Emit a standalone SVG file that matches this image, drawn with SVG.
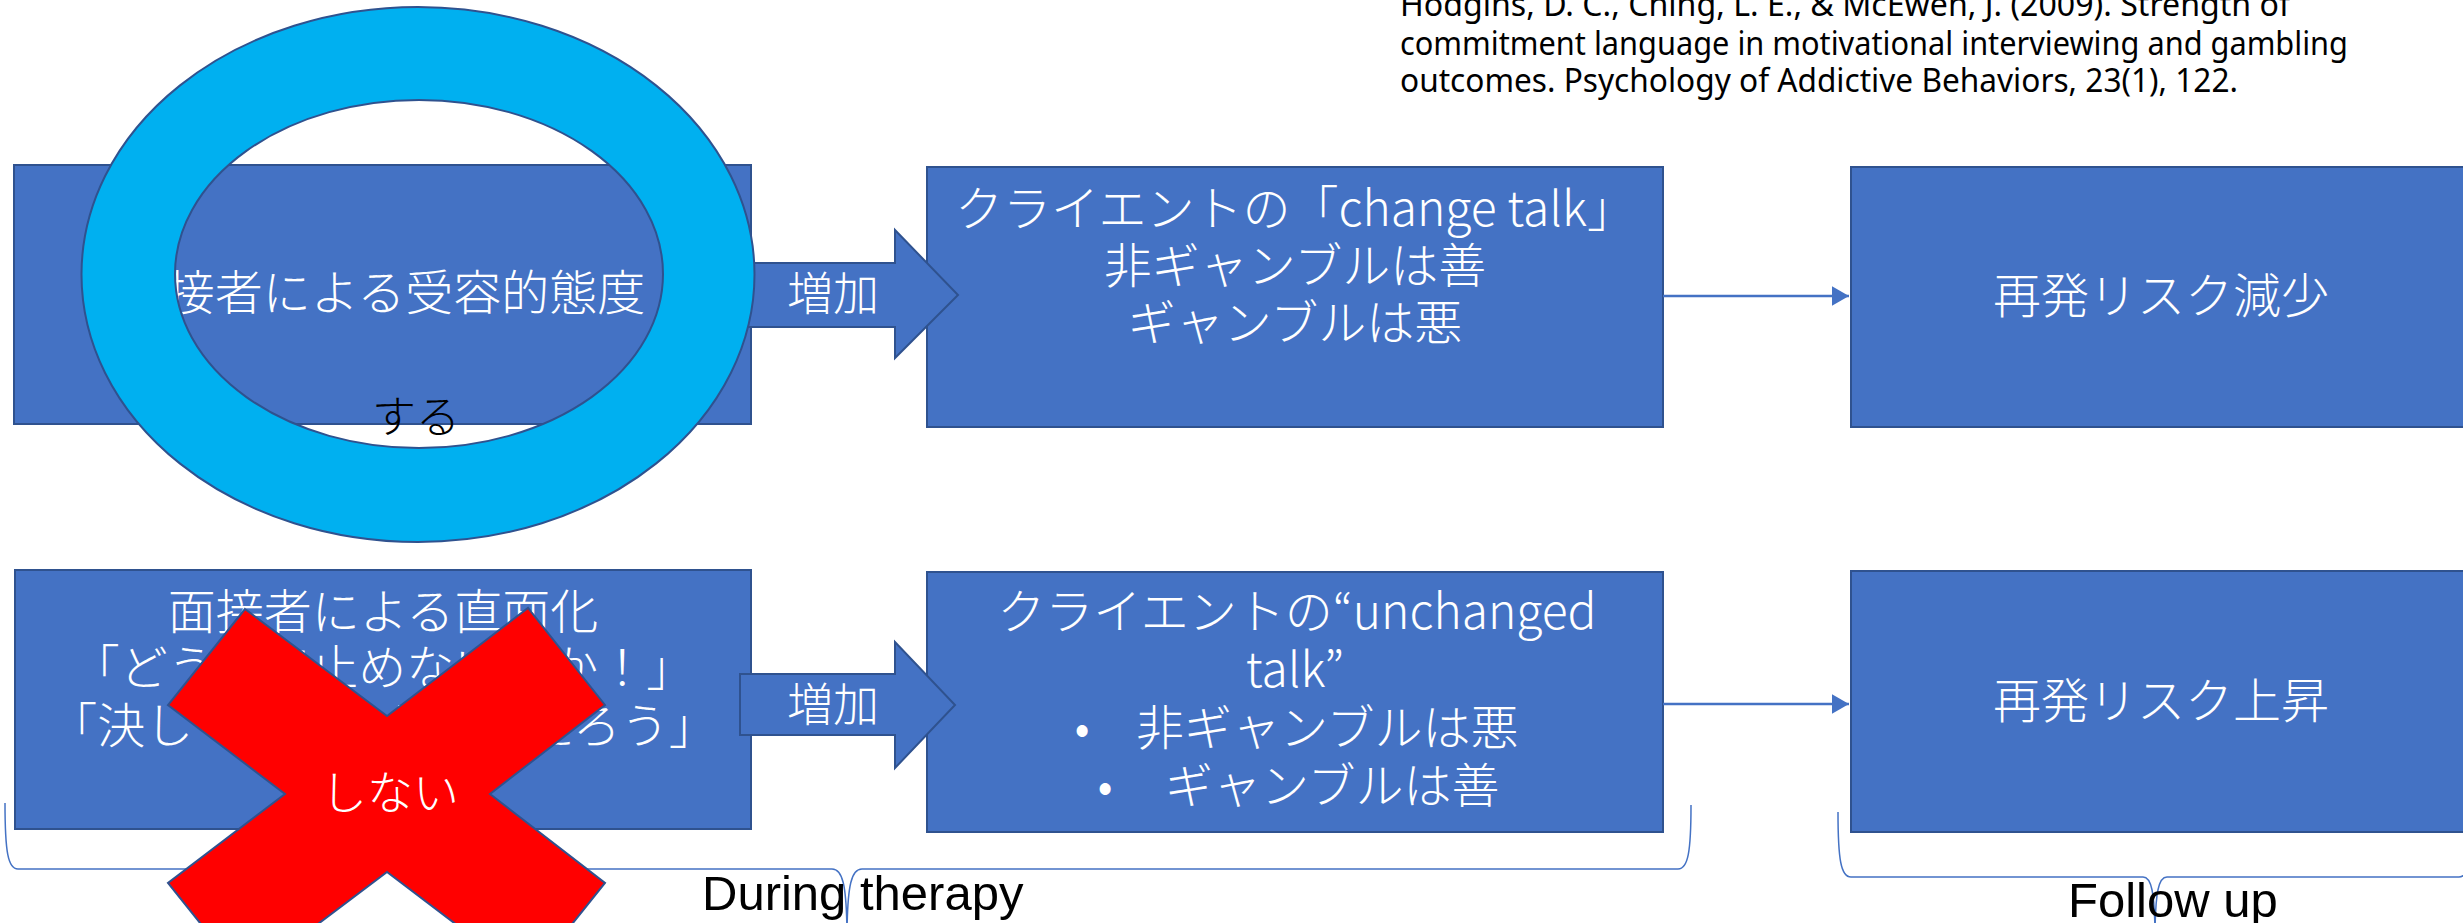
<svg xmlns="http://www.w3.org/2000/svg" width="2463" height="923" viewBox="0 0 2463 923">
<style>
.box{fill:#4472C4;stroke:#2F528F;stroke-width:2}
.blk{fill:#4472C4;stroke:#2F528F;stroke-width:2}
.wt{fill:#FFFFFF;font-family:"Noto Sans CJK JP",sans-serif;font-weight:300;font-size:48px;text-anchor:middle}
.bk{fill:#000000;font-family:"Noto Sans CJK JP",sans-serif;font-weight:300;text-anchor:middle}
.lat{fill:#000000;font-family:"Liberation Sans",sans-serif;font-size:49px}
.cite{fill:#000000;font-family:"Noto Sans","Liberation Sans",sans-serif;font-size:33px}
.conn{stroke:#4472C4;stroke-width:2.5;fill:none}
.brace{stroke:#4472C4;stroke-width:1.5;fill:none}
</style>
<defs>
<marker id="ah" markerWidth="8" markerHeight="8" refX="7" refY="4" orient="auto" markerUnits="strokeWidth">
<path d="M0,0 L7,4 L0,8 Z" fill="#4472C4"/>
</marker>
</defs>

<g id="citation">
<text class="cite" x="1400" y="16" textLength="890" lengthAdjust="spacingAndGlyphs">Hodgins, D. C., Ching, L. E., &amp; McEwen, J. (2009). Strength of</text>
<text class="cite" x="1400" y="55" textLength="948" lengthAdjust="spacingAndGlyphs">commitment language in motivational interviewing and gambling</text>
<text class="cite" x="1400" y="92" textLength="838" lengthAdjust="spacingAndGlyphs">outcomes. Psychology of Addictive Behaviors, 23(1), 122.</text>
</g>

<g id="braces">
<path class="brace" d="M5,803 C5,852 8,869 18,869 L832,869 C842,869 847,882 847,940 C847,882 852,869 862,869 L1678,869 C1688,869 1691,852 1691,805"/>
<path class="brace" d="M1838,812 C1838,860 1841,877 1851,877 L2143,877 C2151,877 2155,890 2155,940 C2155,890 2159,877 2167,877 L2459,877 C2469,877 2472,860 2472,812"/>
<text class="lat" x="702" y="910">During therapy</text>
<text class="lat" x="2068" y="917">Follow up</text>
</g>

<g id="node-accept">
<rect class="box" x="14" y="165" width="737" height="259"/>
<text class="wt" x="382" y="310">面接者による受容的態度</text>
</g>

<g id="node-change">
<rect class="box" x="927" y="167" width="736" height="260"/>
<text class="wt" x="1295" y="226">クライエントの「change talk」</text>
<text class="wt" x="1295" y="283">非ギャンブルは善</text>
<text class="wt" x="1295" y="340">ギャンブルは悪</text>
</g>

<g id="node-decrease">
<rect class="box" x="1851" y="167" width="620" height="260"/>
<text class="wt" x="2161" y="313">再発リスク減少</text>
</g>

<g id="node-confront">
<rect class="box" x="15" y="570" width="736" height="259"/>
<text class="wt" x="383" y="629">面接者による直面化</text>
<text class="wt" x="383" y="685">「どうして止めないのか！」</text>
<text class="wt" x="383" y="743">「決して止められないだろう」</text>
</g>

<g id="node-unchange">
<rect class="box" x="927" y="572" width="736" height="260"/>
<text class="wt" x="1297" y="629">クライエントの“unchanged</text>
<text class="wt" x="1295" y="687">talk”</text>
<text class="wt" y="745"><tspan x="1082">•</tspan><tspan x="1136" style="text-anchor:start">非ギャンブルは悪</tspan></text>
<text class="wt" y="803"><tspan x="1105">•</tspan><tspan x="1165" style="text-anchor:start">ギャンブルは善</tspan></text>
</g>

<g id="node-increase">
<rect class="box" x="1851" y="571" width="620" height="261"/>
<text class="wt" x="2161" y="718">再発リスク上昇</text>
</g>

<g id="connectors">
<line class="conn" x1="1663" y1="296" x2="1849" y2="296" marker-end="url(#ah)"/>
<line class="conn" x1="1663" y1="704" x2="1849" y2="704" marker-end="url(#ah)"/>
</g>

<g id="arrow-top">
<polygon class="blk" points="740,263 895,263 895,230 958,295 895,358 895,327 740,327"/>
<text class="wt" x="833" y="310" style="font-size:46px">増加</text>
</g>

<g id="arrow-bottom">
<polygon class="blk" points="740,674 895,674 895,642 955,705 895,768 895,735 740,735"/>
<text class="wt" x="833" y="721" style="font-size:46px">増加</text>
</g>

<g id="ring">
<path d="M81.5,274.5 A336.5,267.5 0 1 0 754.5,274.5 A336.5,267.5 0 1 0 81.5,274.5 Z M175,274 A244,174 0 1 0 663,274 A244,174 0 1 0 175,274 Z" fill="#00B0F0" fill-rule="evenodd" stroke="#2F528F" stroke-width="2"/>
<text class="bk" x="416" y="433" style="font-size:44px">する</text>
</g>

<g id="cross">
<polygon points="245,609 387,716 528,608 605,705 490,794 605,883 528,979 387,872 245,979 168,883 285,794 168,705" fill="#FF0000" stroke="#2F528F" stroke-width="2"/>
<text class="wt" x="390" y="809" style="font-size:46px">しない</text>
</g>
</svg>
